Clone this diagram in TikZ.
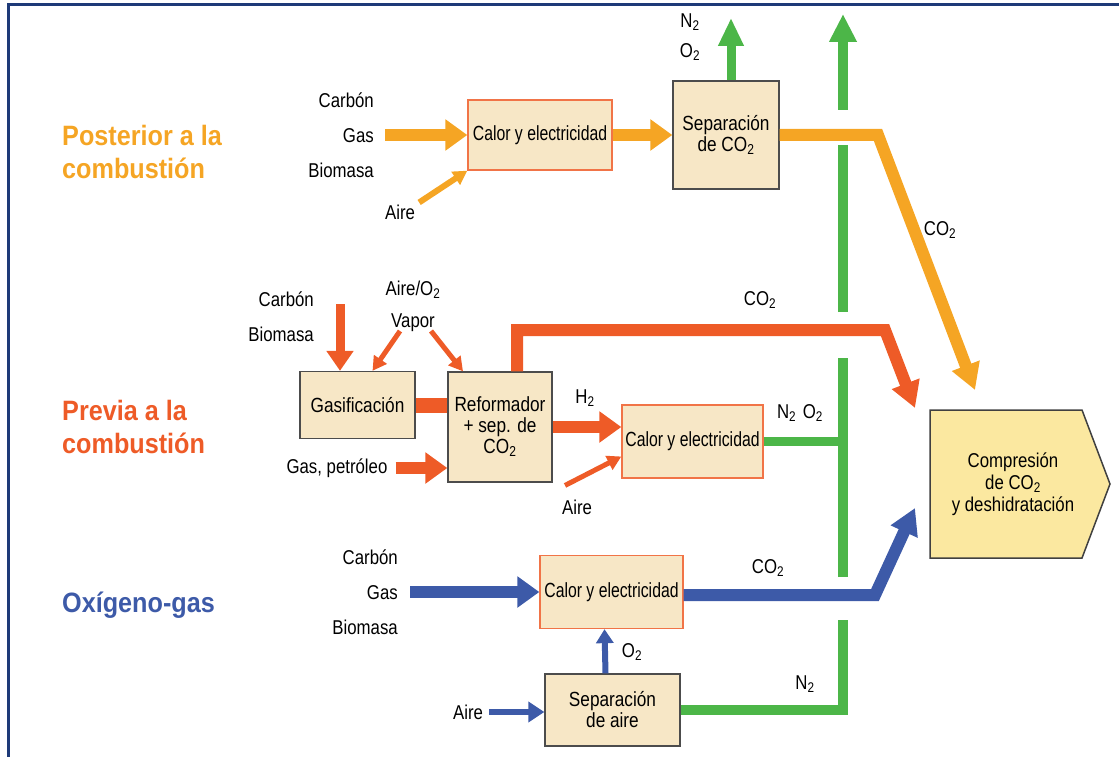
\documentclass[tikz,border=0pt]{standalone}
\usepackage{fontspec}
\setmainfont{Liberation Sans}[FakeStretch=0.84]
\newfontfamily\titlefont{Liberation Sans}[FakeStretch=0.9]
\newfontfamily\narrowfont{Liberation Sans}[FakeStretch=0.77]
\usetikzlibrary{arrows.meta}
\definecolor{corange}{HTML}{F5A524}
\definecolor{cred}{HTML}{EE5B27}
\definecolor{cblue}{HTML}{3D5AA8}
\definecolor{cgreen}{HTML}{4CB648}
\definecolor{boxfill}{HTML}{F7E7C6}
\definecolor{compfill}{HTML}{FBE8A0}
\definecolor{framec}{HTML}{1E3A78}
\newcommand{\sbs}[1]{\textsubscript{#1}}
\tikzset{
  proc/.style={draw=black!70, line width=1.3pt, fill=boxfill, align=center, inner sep=0pt,
    font=\fontsize{20.5}{21}\selectfont},
  heat/.style={proc, draw=cred!85, font=\narrowfont\fontsize{20.5}{21}\selectfont},
  lbl/.style={font=\fontsize{20}{22}\selectfont, inner sep=0pt},
  title/.style={font=\titlefont\bfseries\fontsize{28}{33}\selectfont, align=left, anchor=west, inner sep=0pt},
  bigarrow/.style={line width=12pt, -{Triangle[length=22pt,width=30pt]}},
  midarrow/.style={line width=9pt, -{Triangle[length=20pt,width=26pt]}},
  thinarrow/.style={line width=5pt, -{Triangle[length=14pt,width=15pt]}},
  flow/.style={line width=12pt},
  gflow/.style={line width=10pt, cgreen},
}
\begin{document}
\begin{tikzpicture}[x=1pt,y=-1pt]
\useasboundingbox (0,0) rectangle (1119,757);
% frame
\draw[framec, line width=3pt] (8,757) -- (8,5) -- (1119,5);

% titles
\node[title, text=corange] (t1) at (62,152) {Posterior a la\\combustión};
\node[title, text=cred] (t2) at (62,427) {Previa a la\\combustión};
\node[title, text=cblue] (t3) at (62,605) {Oxígeno-gas};

% boxes
\node[heat, minimum width=144pt, minimum height=70pt] (c1) at (540,135) {Calor y electricidad};
\node[proc, minimum width=106pt, minimum height=108pt] (s1) at (726,135) {Separación\\de CO\sbs{2}};
\node[proc, minimum width=115pt, minimum height=67pt] (gas) at (357.5,405) {Gasificación};
\node[proc, minimum width=104pt, minimum height=110pt] (ref) at (500,427) {Reformador\\+ sep. de\\CO\sbs{2}};
\node[heat, minimum width=141pt, minimum height=73pt] (c2) at (692.5,441.5) {Calor y electricidad};
\node[heat, minimum width=143pt, minimum height=73pt] (c3) at (611.5,592) {Calor y electricidad};
\node[proc, minimum width=135pt, minimum height=72pt] (sa) at (612.5,710) {Separación\\de aire};

% compression box
\draw[black!75, line width=1.5pt, fill=compfill] (930,410) -- (1082,410) -- (1110,484) -- (1082,558) -- (930,558) -- cycle;
\node[lbl, align=center, font=\fontsize{20}{22}\selectfont] (comp) at (1013,484) {Compresión\\de CO\sbs{2}\\y deshidratación};
\coordinate (compA) at (975,390);
\coordinate (compB) at (915,408);
\coordinate (compC) at (915,508);

% labels
\node[lbl, align=right, anchor=east, font=\fontsize{20}{35}\selectfont] (in1) at (374,135) {Carbón\\Gas\\Biomasa};
\node[lbl] (aire1) at (400,212) {Aire};
\node[lbl, align=right, anchor=east, font=\fontsize{20}{35}\selectfont] (in2) at (314,317) {Carbón\\Biomasa};
\node[lbl, align=center, font=\fontsize{20}{32}\selectfont] (av) at (413,306) {Aire/O\sbs{2}\\Vapor};
\node[lbl] (gp) at (337,468) {Gas, petróleo};
\node[lbl] (aire2) at (577,507) {Aire};
\node[lbl, align=right, anchor=east, font=\fontsize{20}{35}\selectfont] (in3) at (398,592) {Carbón\\Gas\\Biomasa};
\node[lbl] (aire3) at (468,712) {Aire};

\node[lbl] (lN2a) at (690,22) {N\sbs{2}};
\node[lbl] (lO2a) at (690,52) {O\sbs{2}};
\node[lbl] (lco2a) at (940,230) {CO\sbs{2}};
\node[lbl] (lco2b) at (760,300) {CO\sbs{2}};
\node[lbl] (lh2) at (585,398) {H\sbs{2}};
\node[lbl] (ln2o2) at (800,413) {N\sbs{2}\,\,O\sbs{2}};
\node[lbl] (lco2c) at (768,568) {CO\sbs{2}};
\node[lbl] (lo2) at (632,652) {O\sbs{2}};
\node[lbl] (ln2) at (805,684) {N\sbs{2}};

% green main trunk (segments, gaps at crossings)
\draw[gflow] (sa.east) -| (843,620);
\draw[gflow] (843,577) -- (843,358);
\draw[gflow] (843,312) -- (843,145);
\draw[gflow, -{Triangle[length=28pt,width=26pt]}] (843,110) -- (843,14);
\draw[gflow, line width=9pt] (c2.east) -- (c2.east -| 848,0);
\draw[cgreen, line width=9pt, -{Triangle[length=28pt,width=24pt]}] (s1.north -| 731,0) -- (731,18);

% orange (post-combustion)
\draw[corange, bigarrow] ([xshift=11pt]in1.east) -- (c1.west);
\draw[corange, thinarrow, line width=6pt] (aire1.north east) ++(4,-2) -- (c1.south west);
\draw[corange, bigarrow] (c1.east) -- (s1.west);
\draw[corange, flow, -{Triangle[length=26pt,width=28pt]}] (s1.east) -- (878,135) -- (compA);

% red (pre-combustion)
\draw[cred, midarrow] (340,304) -- ([xshift=-17.5pt]gas.north);
\draw[cred, thinarrow] (400,331) -- ([xshift=15pt]gas.north);
\draw[cred, thinarrow] (431,331) -- ([xshift=-37pt]ref.north);
\draw[cred, line width=15pt] (gas.east) -- (gas.east -| ref.west);
\draw[cred, bigarrow] ([xshift=8pt]gp.east) -- (gp.east -| ref.west);
\draw[cred, flow, -{Triangle[length=26pt,width=28pt]}] ([xshift=17pt]ref.north) |- (885,330) -- (compB);
\draw[cred, bigarrow] (ref.east) -- (ref.east -| c2.west);
\draw[cred, thinarrow] (aire2.north) ++(-12,-14) -- ([yshift=-15pt]c2.west);

% blue (oxy-fuel)
\draw[cblue, bigarrow] ([xshift=12pt]in3.east) -- (in3.east -| c3.west);
\draw[cblue, flow, -{Triangle[length=26pt,width=28pt]}] ([yshift=-3pt]c3.east) -- (875,595) -- (compC);
\draw[cblue, line width=6pt, -{Triangle[length=14pt,width=17pt]}] ([xshift=-7pt]sa.north) -- ([xshift=-7pt]c3.south);
\draw[cblue, line width=6pt, -{Triangle[length=16pt,width=20pt]}] ([xshift=6pt]aire3.east) -- (aire3.east -| sa.west);
\end{tikzpicture}
\end{document}
